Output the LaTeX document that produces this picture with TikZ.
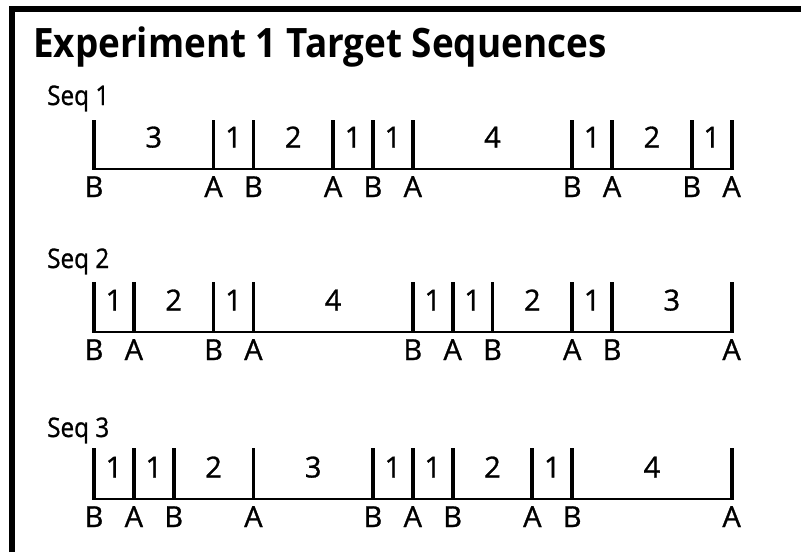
\documentclass[tikz,border=0pt]{standalone}
\usepackage{fontspec}
\setmainfont{Open Sans}
\newfontfamily\labfont[FakeBold=1]{Open Sans}
\newfontfamily\seqfont[FakeBold=1,FakeStretch=0.9]{Open Sans}
\newfontfamily\titlefont[FakeStretch=0.91]{Open Sans}
\begin{document}
\begin{tikzpicture}[x=1pt,y=-1pt,
  tick/.style={line width=3.8pt,line cap=butt},
  baseln/.style={line width=1.6pt},
  lab/.style={font=\labfont\fontsize{29}{30}\selectfont,inner sep=0pt},
  num/.style={font=\labfont\fontsize{29}{30}\selectfont,inner sep=0pt},
  seqlab/.style={font=\seqfont\fontsize{27}{30}\selectfont,inner sep=0pt,anchor=base west},
  titlelab/.style={font=\titlefont\bfseries\fontsize{40.5}{42}\selectfont,inner sep=0pt,anchor=base west}]
\useasboundingbox (0,0) rectangle (801,552);
\fill[white] (0,0) rectangle (801,552);
\draw[line width=5.5pt,line join=miter] (12,552) -- (12,9) -- (801,9);
\node[titlelab] (title) at (33,57) {Experiment 1 Target Sequences};
\node[seqlab] (seq1) at (47,105) {Seq 1};
\node[seqlab] (seq2) at (47,268) {Seq 2};
\node[seqlab] (seq3) at (47,437) {Seq 3};
\def\uu{39.85}
\def\xo{94}
\foreach \r/\bl/\tp/\pts in {1/169/120/{0,3,4,6,7,8,12,13,15,16},2/332/282/{0,1,3,4,8,9,10,12,13,16},3/499/448/{0,1,2,4,7,8,9,11,12,16}}{
  \foreach \p [count=\i, remember=\p as \q (initially 0)] in \pts {
    \coordinate (r\r t\i) at (\xo+\p*\uu, \tp);
    \coordinate (r\r b\i) at (\xo+\p*\uu, \bl+0.8);
    \draw[tick] (r\r t\i) -- (r\r b\i);
    \pgfmathtruncatemacro\odd{mod(\i,2)}
    \node[lab, anchor=base] (r\r l\i) at (\xo+\p*\uu, \bl+28) {\ifnum\odd=1 B\else A\fi};
    \ifnum\i>1
      \pgfmathtruncatemacro\dd{\p-\q}
      \node[num, anchor=base] (r\r n\i) at (\xo+\p*\uu/2+\q*\uu/2, \bl-21.5) {\dd};
    \fi
  }
  \draw[baseln] (r\r b1) ++(0,-0.8) -- ([yshift=0.8pt]r\r b10);
}
\end{tikzpicture}
\end{document}
